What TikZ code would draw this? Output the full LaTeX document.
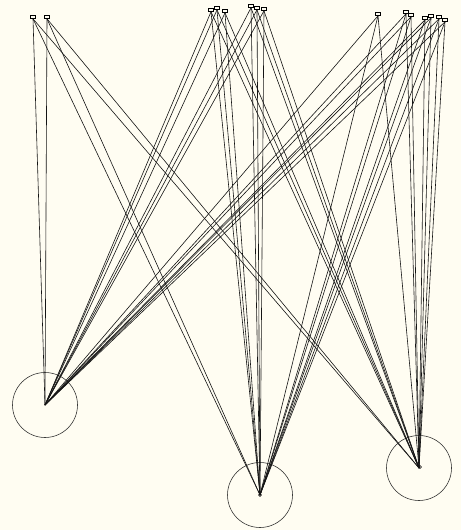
\documentclass[tikz,border=0pt]{standalone}
\definecolor{bgc}{RGB}{255,253,242}
\definecolor{edgec}{RGB}{20,20,20}
\begin{document}
\begin{tikzpicture}[x=1pt,y=-1pt,
  topnode/.style={inner sep=0pt,minimum width=5pt,minimum height=3pt,draw=black,line width=0.6pt},
  hub/.style={circle,draw=black!85,line width=0.55pt,minimum size=65pt,inner sep=0pt},
  hubdot/.style={circle,draw=black,inner sep=0pt,minimum size=3pt},
  link/.style={draw=edgec,line width=0.6pt}]
\fill[bgc] (0,0) rectangle (461,530);
\useasboundingbox (0,0) rectangle (461,530);
% bottom hubs
\node[hub] (Lc) at (45,405) {};
\node[hub] (Mc) at (260,495) {};
\node[hub] (Rc) at (419,468) {};
\coordinate (L) at (45,405);
\coordinate (M) at (260,495);
\coordinate (R) at (419,468);
\node[hubdot] (Md) at (260,495) {};
\node[hubdot] (Rd) at (420,467) {};
% top nodes
\foreach \n/\x/\y in {a1/33/17,a2/47/17,
  b1/211/10,b2/217/8,b3/225/11,b4/251/6,b5/257/8,b6/264/9,
  c1/378/14,c2/406/12,c3/411/15,c4/425/18,c5/431/16,c6/439/17,c7/445/20}{
  \node[topnode] (\n) at (\x,\y) {};
}
\foreach \n in {a1,a2,b1,b2,b3,b4,b5,b6,c1,c2,c3,c4,c5,c6,c7}{
  \draw[link] (\n.south) -- (L);
  \draw[link] (\n.south) -- (M);
  \draw[link] (\n.south) -- (R);
}
\end{tikzpicture}
\end{document}
